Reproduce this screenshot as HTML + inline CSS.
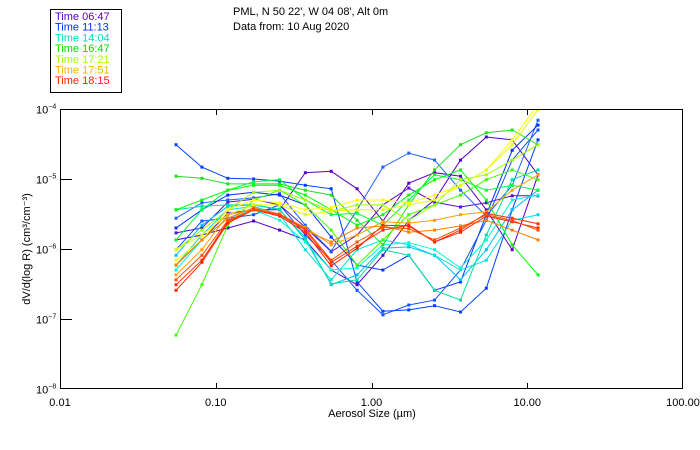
<!DOCTYPE html>
<html><head><meta charset="utf-8"><style>
body{margin:0;background:#fff}
svg{display:block;font-family:"Liberation Sans",sans-serif}
</style></head><body>
<svg id="chart" width="700" height="450" viewBox="0 0 700 450" xmlns="http://www.w3.org/2000/svg">
<g>
<rect x="50.5" y="9.5" width="71" height="83" fill="#fff" stroke="#000" stroke-width="1"/>
<g id="legendItems" font-size="11"></g>
</g>
<g font-size="11" fill="#000">
<text x="233" y="15">PML, N 50 22', W 04 08', Alt 0m</text>
<text x="233" y="30">Data from: 10 Aug 2020</text>
</g>
<defs><clipPath id="plotClip"><rect x="60" y="109" width="623" height="280"/></clipPath></defs>
<g id="series" clip-path="url(#plotClip)"></g>
<rect x="60.5" y="109.5" width="622" height="279" fill="none" stroke="#000" stroke-width="1"/>
<g id="axes" font-size="11" fill="#000"></g>
<text x="372" y="417" font-size="11" text-anchor="middle">Aerosol Size (µm)</text>
<text transform="translate(30,249) rotate(-90)" font-size="11" text-anchor="middle">dV/d(log R) (cm³/cm⁻³)</text>
</svg>
<script>
const sizes=[0.0556,0.0815,0.1195,0.175,0.257,0.376,0.551,0.808,1.184,1.735,2.54,3.73,5.46,8.0,11.73];
const legendLabels=["Time 06:47","Time 11:13","Time 14:04","Time 16:47","Time 17:21","Time 17:51","Time 18:15"];
const legendColors=["#6000c0","#0030ff","#00e0c0","#00e000","#a0ff00","#ffb000","#ff2000"];
const xTickValues=[0.01,0.1,1,10,100];
const xTickLabels=["0.01","0.10","1.00","10.00","100.00"];
const yTickExps=[-4,-5,-6,-7,-8];
const seriesColors=["#6000c0","#5000d0","#5a10c8","#0040ff","#2060ff","#0030ff","#1050ff","#00c0ff","#00e0e0","#00e0a0","#00ffd0","#20e020","#00ff40","#40ff00","#00ff00","#a0ff00","#ffff00","#e0ff00","#ffa000","#ff8000","#ff3000","#ff2000","#ff5000"];
const logDV=[
[-6.23,-5.87,-5.49,-5.44,-5.44,-4.91,-4.89,-5.14,-5.60,-5.06,-4.91,-4.96,-5.44,-6.01,-4.94],
[-5.87,-5.80,-5.70,-5.60,-5.73,-5.87,-6.30,-6.51,-6.09,-5.59,-5.30,-4.73,-4.40,-4.44,-4.94],
[-5.77,-5.70,-5.33,-5.29,-5.37,-5.69,-6.04,-5.80,-5.37,-5.13,-5.33,-5.40,-5.34,-5.24,-5.24],
[-4.51,-4.83,-4.99,-5.00,-5.03,-5.09,-5.14,-6.47,-6.89,-6.87,-6.81,-6.90,-6.56,-5.44,-4.44],
[-5.56,-5.34,-5.30,-5.27,-5.21,-5.66,-6.03,-5.44,-4.83,-4.63,-4.73,-5.16,-5.53,-5.09,-4.16],
[-5.70,-5.44,-5.23,-5.19,-5.23,-5.37,-5.83,-6.23,-6.30,-6.09,-6.59,-6.47,-5.51,-4.59,-4.23],
[-6.01,-5.60,-5.56,-5.51,-5.37,-5.80,-6.16,-6.59,-6.94,-6.80,-6.73,-6.30,-5.59,-4.73,-4.30],
[-6.09,-5.66,-5.39,-5.37,-5.44,-5.84,-6.51,-6.37,-5.99,-5.97,-6.09,-6.44,-6.01,-5.44,-5.16],
[-6.23,-5.80,-5.44,-5.39,-5.51,-6.01,-6.44,-6.01,-5.87,-5.94,-6.09,-6.30,-6.16,-5.59,-5.51],
[-5.44,-5.39,-5.37,-5.37,-5.43,-5.87,-6.50,-6.44,-6.01,-6.09,-6.59,-6.73,-5.80,-5.01,-4.87],
[-6.30,-5.87,-5.56,-5.44,-5.59,-5.90,-6.30,-6.27,-5.94,-5.91,-6.01,-6.27,-5.87,-5.30,-5.23],
[-4.96,-4.99,-5.07,-5.07,-5.07,-5.16,-5.23,-5.59,-5.94,-5.37,-4.87,-4.51,-4.34,-4.30,-4.51],
[-5.87,-5.44,-5.16,-5.04,-5.01,-5.30,-5.51,-5.49,-5.66,-5.30,-4.94,-5.01,-5.16,-5.09,-5.16],
[-7.23,-6.51,-5.66,-5.30,-5.16,-5.37,-5.73,-6.23,-5.87,-5.51,-5.37,-5.23,-5.01,-4.87,-5.01],
[-5.44,-5.30,-5.16,-5.09,-5.09,-5.23,-5.44,-5.66,-5.51,-5.23,-5.01,-4.87,-5.30,-5.94,-6.37],
[-6.01,-5.73,-5.44,-5.19,-5.16,-5.30,-5.46,-5.37,-5.37,-5.59,-5.37,-5.01,-4.94,-4.73,-4.51],
[-6.16,-5.87,-5.44,-5.30,-5.34,-5.44,-5.41,-5.30,-5.30,-5.34,-5.23,-5.09,-4.87,-4.44,-3.94],
[-6.01,-5.80,-5.51,-5.37,-5.37,-5.51,-5.46,-5.44,-5.44,-5.37,-5.30,-5.09,-4.87,-4.51,-4.01],
[-6.37,-6.01,-5.51,-5.44,-5.51,-5.69,-5.94,-5.80,-5.61,-5.63,-5.59,-5.51,-5.47,-5.16,-4.94],
[-6.23,-5.87,-5.56,-5.41,-5.50,-5.73,-5.90,-5.70,-5.67,-5.76,-5.73,-5.67,-5.59,-5.73,-5.87],
[-6.51,-6.16,-5.61,-5.43,-5.51,-5.73,-6.19,-5.96,-5.73,-5.66,-5.90,-5.73,-5.49,-5.56,-5.64],
[-6.59,-6.19,-5.63,-5.44,-5.53,-5.76,-6.24,-5.99,-5.66,-5.67,-5.90,-5.76,-5.53,-5.61,-5.70],
[-6.44,-6.09,-5.59,-5.44,-5.50,-5.71,-6.16,-5.90,-5.69,-5.71,-5.87,-5.70,-5.51,-5.59,-5.73]
];
const NS="http://www.w3.org/2000/svg";
const X0=60,X1=683,Y0=109,Y1=389;
function xScale(v){return X0+(Math.log10(v)+2)/4*(X1-X0);}
function yScale(e){return Y0+(-4-e)/4*(Y1-Y0);}
function mk(tag,attrs,parent){const el=document.createElementNS(NS,tag);for(const k in attrs)el.setAttribute(k,attrs[k]);parent.appendChild(el);return el;}
const leg=document.getElementById('legendItems');
legendLabels.forEach((t,i)=>{
  const el=mk('text',{x:55,y:20+i*10.7,fill:legendColors[i]},leg);
  
  
  el.textContent=t;
});
const sg=document.getElementById('series');
logDV.forEach((vals,si)=>{
  const g=mk('g',{},sg);
  
  
  const pts=vals.map((v,i)=>xScale(sizes[i]).toFixed(1)+','+yScale(v).toFixed(1)).join(' ');
  mk('polyline',{points:pts,fill:'none',stroke:seriesColors[si],'stroke-width':1},g);
  vals.forEach((v,i)=>{
    const r=mk('rect',{x:xScale(sizes[i])-1.5,y:yScale(v)-1.5,width:3,height:3,fill:seriesColors[si]},g);
    
    
  });
});
const ax=document.getElementById('axes');
xTickValues.forEach((v,i)=>{
  const x=Math.round(xScale(v))+0.5;
  if(i>0&&i<xTickValues.length-1){
    mk('line',{x1:x,x2:x,y1:Y1,y2:Y1-6,stroke:'#000'},ax);
    mk('line',{x1:x,x2:x,y1:Y0,y2:Y0+6,stroke:'#000'},ax);
  }
  const t=mk('text',{x:xScale(v),y:Y1+17,'text-anchor':'middle'},ax);
  
  
  t.textContent=xTickLabels[i];
});
yTickExps.forEach((e,i)=>{
  const y=Math.round(yScale(e))+0.5;
  if(i>0&&i<yTickExps.length-1) mk('line',{x1:X0,x2:X0+12,y1:y,y2:y,stroke:'#000'},ax);
  const t=mk('text',{x:36,y:y+4},ax);
  
  
  t.textContent='10';
  const s=mk('tspan',{dy:-5,'font-size':7},t);
  s.textContent='−'+(-e);
});
</script>
</body></html>
